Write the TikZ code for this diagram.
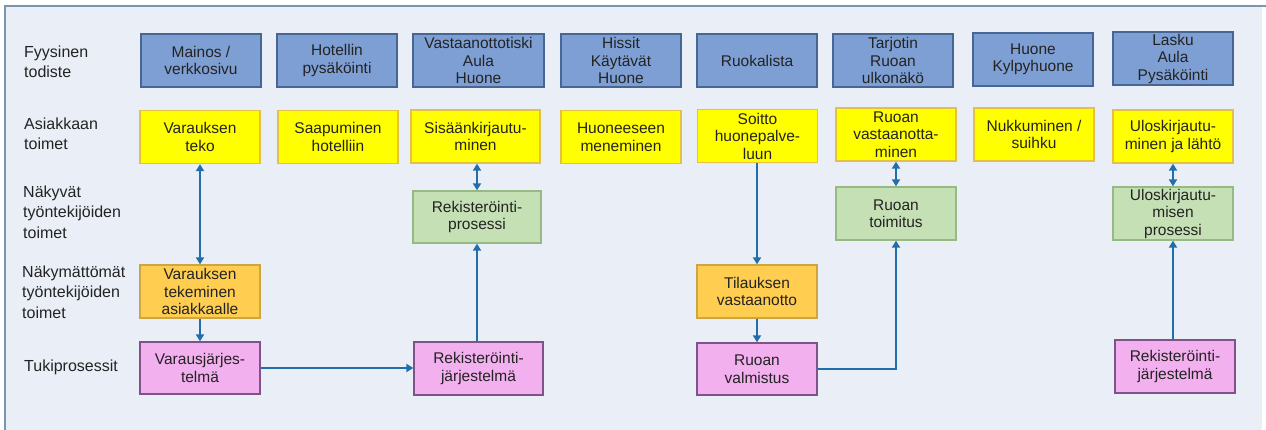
\documentclass[tikz,border=0pt]{standalone}
\usepackage{fontspec}
\setmainfont{Liberation Sans}
\usetikzlibrary{arrows.meta}

\definecolor{bgpanel}{RGB}{233,238,247}
\definecolor{panelline}{RGB}{122,150,172}
\definecolor{bluefill}{RGB}{126,159,212}
\definecolor{blueline}{RGB}{72,102,148}
\definecolor{yellowfill}{RGB}{255,255,0}
\definecolor{yellowline}{RGB}{228,192,70}
\definecolor{greenfill}{RGB}{197,224,180}
\definecolor{greenline}{RGB}{150,186,132}
\definecolor{orangefill}{RGB}{255,205,80}
\definecolor{orangeline}{RGB}{205,165,65}
\definecolor{pinkfill}{RGB}{243,176,239}
\definecolor{pinkline}{RGB}{128,82,138}
\definecolor{flowline}{RGB}{32,110,172}
\definecolor{textdark}{RGB}{35,35,35}

\tikzset{
  box/.style={rectangle, line width=1.3pt, minimum width=120pt, minimum height=53pt,
    inner sep=0pt, align=center, text=textdark,
    font=\fontsize{15.5}{17.5}\selectfont},
  evidence/.style={box, fill=bluefill, draw=blueline},
  customer/.style={box, fill=yellowfill, draw=yellowline},
  onstage/.style={box, fill=greenfill, draw=greenline},
  backstage/.style={box, fill=orangefill, draw=orangeline},
  support/.style={box, fill=pinkfill, draw=pinkline},
  rowlabel/.style={anchor=west, align=left, inner sep=0pt, text=textdark,
    font=\fontsize{16}{20.5}\selectfont},
  flow/.style={draw=flowline, line width=1.9pt,
    -{Triangle[length=7pt,width=8pt]}},
  twoway/.style={draw=flowline, line width=1.9pt,
    {Triangle[length=7pt,width=8pt]}-{Triangle[length=7pt,width=8pt]}}
}

\begin{document}
\begin{tikzpicture}[x=1pt,y=-1pt]
\useasboundingbox (0,0) rectangle (1266,430);

% panel background with top and left edge lines
\fill[bgpanel] (5,6) rectangle (1262,430);
\draw[panelline, line width=1.5pt] (5,430) -- (5,6) -- (1266,6);

% row labels
\node[rowlabel] (l1) at (24,62) {Fyysinen\\todiste};
\node[rowlabel] (l2) at (24,134) {Asiakkaan\\toimet};
\node[rowlabel] (l3) at (23,212) {Näkyvät\\työntekijöiden\\toimet};
\node[rowlabel] (l4) at (22,292) {Näkymättömät\\työntekijöiden\\toimet};
\node[rowlabel] (l5) at (24,367) {Tukiprosessit};

% physical evidence
\node[evidence] (e1) at (201,60.5) {Mainos /\\verkkosivu};
\node[evidence] (e2) at (337,60.5) {Hotellin\\pysäköinti};
\node[evidence, minimum width=131pt] (e3) at (478.5,60.5) {Vastaanottotiski\\Aula\\Huone};
\node[evidence] (e4) at (621,60.5) {Hissit\\Käytävät\\Huone};
\node[evidence] (e5) at (757,60.5) {Ruokalista};
\node[evidence] (e6) at (893,60.5) {Tarjotin\\Ruoan\\ulkonäkö};
\node[evidence] (e7) at (1033,59.5) {Huone\\Kylpyhuone};
\node[evidence] (e8) at (1173,58.5) {Lasku\\Aula\\Pysäköinti};

% customer actions
\node[customer] (c1) at (200,137) {Varauksen\\teko};
\node[customer] (c2) at (338,137) {Saapuminen\\hotelliin};
\node[customer, minimum width=129pt] (c3) at (475.5,136.5) {Sisäänkirjautu-\\minen};
\node[customer] (c4) at (621,137) {Huoneeseen\\meneminen};
\node[customer] (c5) at (757.5,136) {Soitto\\huonepalve-\\luun};
\node[customer] (c6) at (896,134.5) {Ruoan\\vastaanotta-\\minen};
\node[customer] (c7) at (1034,134.5) {Nukkuminen /\\suihku};
\node[customer] (c8) at (1173,136.5) {Uloskirjautu-\\minen ja lähtö};

% visible staff actions
\node[onstage, minimum width=128pt, minimum height=52pt] (v1) at (477,217) {Rekisteröinti-\\prosessi};
\node[onstage] (v2) at (896,213.5) {Ruoan\\toimitus};
\node[onstage] (v3) at (1173,213.5) {Uloskirjautu-\\misen\\prosessi};

% invisible staff actions
\node[backstage] (b1) at (200,291.5) {Varauksen\\tekeminen\\asiakkaalle};
\node[backstage] (b2) at (757,291.5) {Tilauksen\\vastaanotto};

% support processes
\node[support, minimum height=52pt] (s1) at (200,368) {Varausjärjes-\\telmä};
\node[support, minimum width=129pt] (s2) at (478.5,368.5) {Rekisteröinti-\\järjestelmä};
\node[support, minimum height=52pt] (s3) at (757,369) {Ruoan\\valmistus};
\node[support] (s4) at (1175,366.5) {Rekisteröinti-\\järjestelmä};

% connectors
\draw[twoway] (c1.south) -- (b1.north);
\draw[flow] (b1.south) -- (s1.north);
\draw[flow] (s1.east) -- (s2.west |- s1.east);
\draw[twoway] (c3.south -| v1.north) -- (v1.north);
\draw[flow] (s2.north -| v1.south) -- (v1.south);
\draw[flow] (c5.south -| b2.north) -- (b2.north);
\draw[flow] (b2.south) -- (s3.north);
\draw[flow] (s3.east) -| (v2.south);
\draw[twoway] (c6.south) -- (v2.north);
\draw[twoway] (c8.south) -- (v3.north);
\draw[flow] (s4.north -| v3.south) -- (v3.south);
\end{tikzpicture}
\end{document}
